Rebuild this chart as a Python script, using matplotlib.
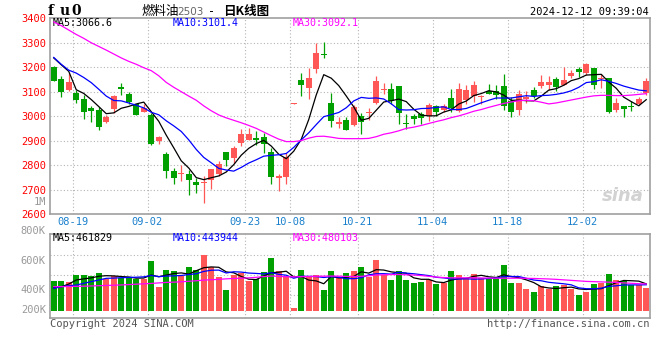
import numpy as np
import matplotlib.pyplot as plt
from matplotlib.transforms import blended_transform_factory

# daily candles 2024-08-14 .. 2024-12-12 (80 trading days)
opens = [3199, 3151, 3105, 3095, 3071, 3035, 3027, 2978, 3031, 3118, 3091, 3048, 3019, 3005, 2897, 2844,
         2777, 2762, 2765, 2732, 2725, 2740, 2765, 2854, 2830, 2890, 2901, 2909, 2916, 2854, 2746, 2751,
         3051, 3148, 3116, 3193, 3256, 3053, 2966, 2985, 2965, 3001, 3011, 3054, 3107, 3113, 3124, 2971,
         2999, 3010, 3001, 3041, 3026, 3073, 3023, 3064, 3084, 3078, 3103, 3102, 3124, 3063, 3026, 3069,
         3106, 3124, 3129, 3152, 3128, 3166, 3193, 3175, 3196, 3152, 3156, 3026, 3042, 3042, 3049, 3094]
closes = [3145, 3097, 3140, 3067, 3015, 3020, 2954, 2995, 3083, 3109, 3058, 3004, 3033, 2887, 2913, 2774,
          2746, 2767, 2740, 2717, 2732, 2785, 2804, 2820, 2868, 2925, 2925, 2901, 2887, 2751, 2757, 2835,
          3054, 3129, 3156, 3260, 3249, 2982, 2977, 2944, 3037, 2978, 3018, 3144, 3112, 3063, 3012, 2966,
          2988, 2993, 3046, 3015, 3042, 3033, 3112, 3107, 3126, 3084, 3091, 3087, 3042, 3018, 3091, 3078,
          3083, 3140, 3140, 3121, 3148, 3177, 3182, 3212, 3128, 3156, 3019, 3054, 3031, 3037, 3071, 3144]
highs = [3203, 3166, 3175, 3105, 3087, 3040, 3037, 3005, 3087, 3136, 3099, 3050, 3050, 3012, 2920, 2852,
         2790, 2800, 2778, 2748, 2754, 2785, 2816, 2854, 2876, 2948, 2951, 2940, 2931, 2869, 2763, 2849,
         3055, 3175, 3196, 3301, 3302, 3094, 2996, 2997, 3044, 3012, 3033, 3165, 3135, 3137, 3124, 3010,
         3008, 3018, 3053, 3045, 3050, 3110, 3137, 3126, 3144, 3087, 3131, 3126, 3173, 3078, 3107, 3101,
         3120, 3169, 3165, 3159, 3201, 3188, 3200, 3219, 3196, 3173, 3156, 3073, 3042, 3060, 3078, 3154]
lows = [3142, 3080, 3103, 3053, 2989, 2978, 2942, 2971, 3012, 3088, 3050, 3003, 3016, 2884, 2887, 2747,
        2721, 2733, 2676, 2686, 2644, 2702, 2754, 2797, 2807, 2876, 2901, 2882, 2849, 2724, 2693, 2721,
        3050, 3083, 3071, 3178, 3237, 2955, 2950, 2944, 2961, 2925, 2985, 3050, 3092, 3050, 2969, 2947,
        2967, 2969, 2982, 2999, 3015, 3015, 3019, 3049, 3056, 3049, 3091, 3071, 3026, 2995, 3005, 3053,
        3073, 3117, 3107, 3103, 3128, 3154, 3162, 3167, 3113, 3117, 3011, 3016, 2995, 3023, 3046, 3087]

# volume in thousands
volumes = [433, 433, 423, 480, 480, 472, 496, 446, 472, 454, 454, 451, 451, 590, 386, 519,
           512, 476, 543, 519, 637, 543, 462, 362, 484, 493, 436, 446, 502, 614, 513, 474,
           224, 519, 472, 480, 362, 512, 462, 496, 512, 543, 462, 598, 480, 441, 512, 441,
           415, 423, 441, 409, 415, 512, 480, 454, 488, 454, 454, 454, 559, 415, 415, 368,
           347, 394, 368, 394, 399, 370, 323, 347, 409, 415, 488, 441, 433, 399, 399, 381]

# moving averages that reach back before the window
ma5_head = [3238, 3210, 3183, 3108]
ma10_head = [3240, 3212, 3188, 3176, 3158, 3137, 3110, 3082, 3064]
ma30 = [3385, 3370, 3352, 3334, 3318, 3300, 3285, 3270, 3254, 3238, 3224, 3212, 3198, 3186, 3165, 3138,
        3118, 3100, 3082, 3065, 3042, 3022, 3005, 2993, 2983, 2973, 2962, 2950, 2935, 2920, 2906, 2896,
        2896, 2900, 2910, 2917, 2918, 2914, 2909, 2908, 2908, 2908, 2909, 2916, 2926, 2932, 2940, 2950,
        2955, 2962, 2970, 2978, 2985, 2994, 3001, 3010, 3020, 3027, 3036, 3044, 3052, 3058, 3063, 3065,
        3063, 3057, 3050, 3054, 3060, 3066, 3072, 3078, 3083, 3085, 3085, 3084, 3084, 3086, 3089, 3092]
vma5_head = [381, 388, 409, 441]
vma10_head = [375, 388, 396, 401, 415, 428, 441, 454, 456]
vma30 = [388, 389, 390, 391, 392, 394, 396, 398, 400, 402, 405, 408, 411, 414, 418, 422,
         424, 427, 431, 435, 440, 443, 446, 450, 453, 455, 458, 462, 468, 472, 470, 466,
         466, 467, 468, 470, 471, 472, 471, 469, 468, 470, 474, 480, 482, 484, 484, 482,
         480, 476, 470, 464, 460, 458, 458, 458, 458, 457, 456, 455, 455, 455, 455, 454,
         453, 451, 449, 446, 442, 438, 434, 430, 428, 426, 424, 422, 418, 415, 412, 410]

date_labels = ["08-19", "09-02", "09-23", "10-08", "10-21", "11-04", "11-18", "12-02"]
date_idx = [3, 13, 26, 32, 41, 51, 61, 71]
price_ticks = [3400, 3300, 3200, 3100, 3000, 2900, 2800, 2700, 2600]
vol_ticks = ["800K", "600K", "400K", "200K"]
vol_tick_pos = [826, 590, 363, 205]
vol_grid = [635, 478, 321]


def rolling(vals, n, head):
    vals = np.asarray(vals, dtype=float)
    out = np.convolve(vals, np.ones(n) / n, mode="valid")
    return np.concatenate([head, out])


RED = "#ff5656"
GREEN = "#00a000"
GRID = "#b4b4b4"
FRAME = "#a0a0a0"
MONO = "DejaVu Sans Mono"
CJK = ["Noto Sans CJK SC", "DejaVu Sans"]

o = np.array(opens, dtype=float)
c = np.array(closes, dtype=float)
x = np.arange(len(o))
colors = np.where(c >= o, RED, GREEN)

fig = plt.figure(figsize=(6.6, 3.6), dpi=100)
W, H = 660, 360
ax = fig.add_axes([50 / W, 1 - 214 / H, 600 / W, (214 - 18.3) / H])
axv = fig.add_axes([50 / W, 1 - 318.3 / H, 600 / W, 84 / H])

# price panel
for v in price_ticks[1:-1]:
    ax.axhline(v, color=GRID, ls=(0, (1, 2)), lw=0.8, zorder=0)
for d in date_idx:
    ax.axvline(d - 0.5, color=GRID, ls=(0, (1, 2)), lw=0.8, zorder=0)
    axv.axvline(d - 0.5, color=GRID, ls=(0, (1, 2)), lw=0.8, zorder=0)

ax.vlines(x, lows, highs, color=colors, lw=0.9, zorder=2)
body = np.maximum(np.abs(c - o), 3)
ax.bar(x, body, bottom=np.minimum(o, c), width=0.8, color=colors, zorder=3)

ax.plot(x, rolling(closes, 5, ma5_head), color="black", lw=0.9, zorder=4)
ax.plot(x, rolling(closes, 10, ma10_head), color="#0000ff", lw=0.9, zorder=4)
ax.plot(x, ma30, color="#ff00ff", lw=0.9, zorder=4)

ax.set_xlim(-0.5, 79.5)
ax.set_ylim(2600, 3400)
ax.set_xticks([])
ax.set_yticks(price_ticks)
ax.set_yticklabels([str(v) for v in price_ticks], color="red", family=MONO, fontsize=7.5)
ax.tick_params(axis="y", length=0, pad=3)

tr = blended_transform_factory(ax.transAxes, ax.transData)
ax.text(-0.007, 2650, "1M", transform=tr, ha="right", va="center", color="#999999",
        family=MONO, fontsize=7.5)

trx = ax.get_xaxis_transform()
for d, lab in zip(date_idx, date_labels):
    ax.text(d - 0.5, -0.042, lab, transform=trx, ha="center", va="center",
            color="#1a80cc", family=MONO, fontsize=7.5, clip_on=False)

ax.text(0.005, 0.977, "MA5:3066.6", transform=ax.transAxes, va="center", color="black",
        family=MONO, fontsize=7.2)
ax.text(0.205, 0.977, "MA10:3101.4", transform=ax.transAxes, va="center", color="#0000ff",
        family=MONO, fontsize=7.2)
ax.text(0.405, 0.977, "MA30:3092.1", transform=ax.transAxes, va="center", color="#ff00ff",
        family=MONO, fontsize=7.2)

# watermark
ax.text(0.955, 0.09, "sina", transform=ax.transAxes, ha="center", va="center",
        color="#d2d2d2", fontsize=13, style="italic", weight="bold")

# volume panel
vol = np.array(volumes, dtype=float)
for v in vol_grid:
    axv.axhline(v, color=GRID, ls=(0, (1, 2)), lw=0.8, zorder=0)
axv.bar(x, vol - 200, bottom=200, width=0.8, color=colors, zorder=2)
axv.plot(x, rolling(volumes, 5, vma5_head), color="black", lw=0.9, zorder=3)
axv.plot(x, rolling(volumes, 10, vma10_head), color="#0000ff", lw=0.9, zorder=3)
axv.plot(x, vma30, color="#ff00ff", lw=0.9, zorder=3)
axv.set_xlim(-0.5, 79.5)
axv.set_ylim(140, 800)
axv.set_xticks([])
axv.set_yticks([])

trv = blended_transform_factory(axv.transAxes, axv.transData)
for lab, pos in zip(vol_ticks, vol_tick_pos):
    axv.text(-0.007, pos, lab, transform=trv, ha="right", va="center", color="#999999",
             family=MONO, fontsize=7.5, clip_on=False)

axv.text(0.005, 0.955, "MA5:461829", transform=axv.transAxes, va="center", color="black",
         family=MONO, fontsize=7.2)
axv.text(0.205, 0.955, "MA10:443944", transform=axv.transAxes, va="center", color="#0000ff",
         family=MONO, fontsize=7.2)
axv.text(0.405, 0.955, "MA30:480103", transform=axv.transAxes, va="center", color="#ff00ff",
         family=MONO, fontsize=7.2)

for a in (ax, axv):
    for s in a.spines.values():
        s.set_color(FRAME)
        s.set_linewidth(1.2)

# header and footer
for ch, cx in zip("fu0", [51, 64.5, 76.5]):
    fig.text(cx / W, 1 - 11 / H, ch, family="DejaVu Serif", weight="bold", fontsize=10,
             ha="center", va="center")
fig.text(141 / W, 1 - 12 / H, "燃料油", family=CJK, fontsize=9, va="center")
fig.text(177 / W, 1 - 12 / H, "2503", family="DejaVu Sans", fontsize=7.5, color="#666666", va="center")
fig.text(208 / W, 1 - 12 / H, "-", family=MONO, fontsize=8.5, va="center")
fig.text(223 / W, 1 - 12 / H, "日K线图", family=CJK, fontsize=9, weight="bold", va="center")
fig.text(649 / W, 1 - 12 / H, "2024-12-12 09:39:04", family=MONO, fontsize=7.5, ha="right", va="center")
fig.text(50 / W, 1 - 324 / H, "Copyright 2024 SINA.COM", family=MONO, fontsize=7.5,
         color="#555555", va="center")
fig.text(649 / W, 1 - 324 / H, "http://finance.sina.com.cn", family=MONO, fontsize=7.5,
         color="#555555", ha="right", va="center")

fig.savefig("out.png", dpi=100, facecolor="white")
